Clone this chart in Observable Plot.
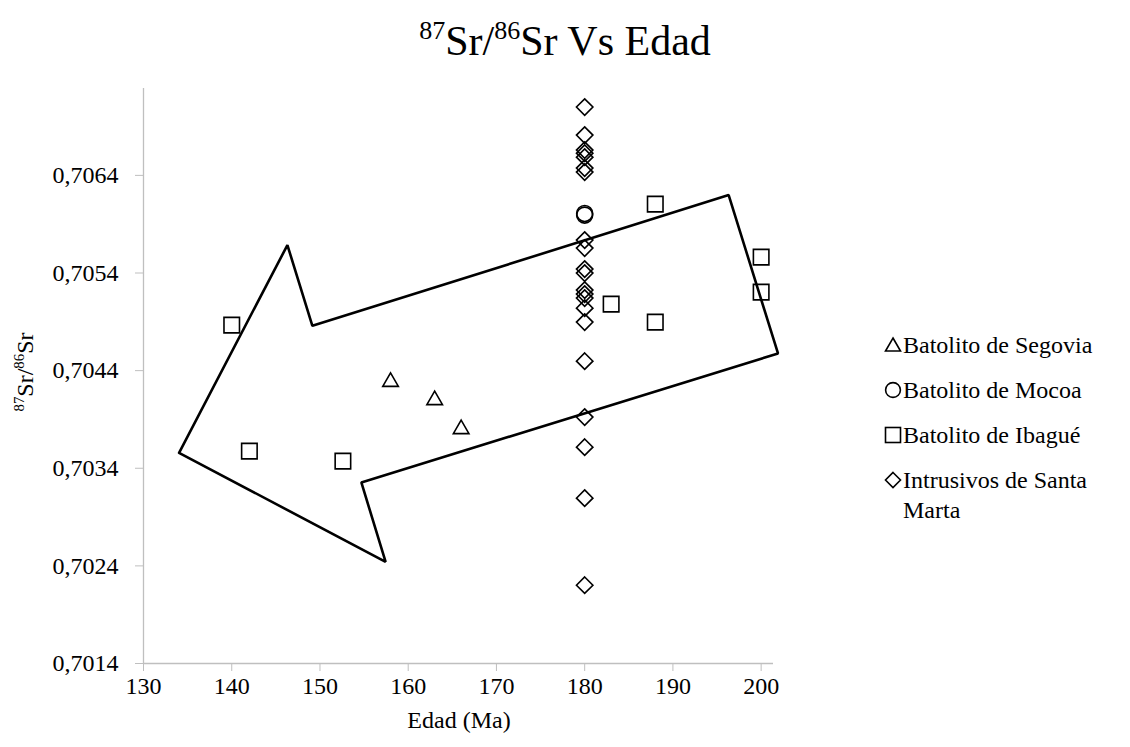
<!DOCTYPE html>
<html>
<head>
<meta charset="utf-8">
<script src="https://cdn.jsdelivr.net/npm/d3@7"></script>
<script src="https://cdn.jsdelivr.net/npm/@observablehq/plot@0.6"></script>
<style>
  html, body { margin: 0; padding: 0; background: #fff; }
  #wrap, #wrap * { font-family: "Liberation Serif", "Times New Roman", "DejaVu Serif", serif !important; }
  #wrap { position: relative; width: 1130px; height: 747px; color: #000; }
  #wrap svg.plot { position: absolute; left: 0; top: 0; }
  #wrap svg text { font-family: "Liberation Serif", "Times New Roman", serif !important; font-variant: normal !important; }
  .abs { position: absolute; white-space: nowrap; }
  sup { font-size: 0.62em; vertical-align: 0; position: relative; top: -0.62em; }
  #title { left: 0; width: 1130px; top: 20px; text-align: center; font-size: 42px; line-height: 42px; }
  #ylab { left: 25px; top: 372px; font-size: 24px; transform: translate(-50%, -50%) rotate(-90deg); }
  #xlab { left: 459px; top: 720px; font-size: 24px; transform: translate(-50%, -50%); }
  #legend { left: 884px; top: 330px; font-size: 24px; line-height: 30px; }
  .row { position: relative; height: 45px; padding-left: 19px; }
  .row svg { position: absolute; left: 0; top: 6px; }
</style>
</head>
<body>
<div id="wrap">
  <div id="title" class="abs"><sup>87</sup>Sr/<sup>86</sup>Sr Vs Edad</div>
  <div id="ylab" class="abs"><sup>87</sup>Sr/<sup>86</sup>Sr</div>
  <div id="xlab" class="abs">Edad (Ma)</div>
  <div id="legend" class="abs"></div>
</div>
<script>
// ---- data ----
const seriesNames = ["Batolito de Segovia", "Batolito de Mocoa", "Batolito de Ibagué", "Intrusivos de Santa Marta"];

const segoviaAge = [158, 163, 166];
const segoviaSr  = [0.704285, 0.704098, 0.703801];

const mocoaAge = [180, 180];
const mocoaSr  = [0.705993, 0.706010];

const ibagueAge = [140, 142, 152.6, 183, 188, 188, 200, 200];
const ibagueSr  = [0.704866, 0.703575, 0.703473, 0.705081, 0.706106, 0.704897, 0.705563, 0.705204];

const santaMartaAge = [180, 180, 180, 180, 180, 180, 180, 180, 180, 180, 180, 180, 180, 180, 180, 180, 180, 180, 180, 180, 180];
const santaMartaSr  = [0.707100, 0.706813, 0.706659, 0.706628, 0.706587, 0.706475, 0.706434,
                       0.705737, 0.705655, 0.705440, 0.705399, 0.705225, 0.705184, 0.705143,
                       0.705040, 0.704897, 0.704497, 0.703924, 0.703616, 0.703094, 0.702202];

// arrow annotation outline (data units: age, ratio)
const arrowAge = [134.03, 146.31, 149.14, 196.32, 201.91, 154.69, 157.44, 134.03];
const arrowSr  = [0.703558, 0.705686, 0.704859, 0.706198, 0.704576, 0.703255, 0.702441, 0.703558];

const xTicks = [130, 140, 150, 160, 170, 180, 190, 200];
const yTicks = [0.7014, 0.7024, 0.7034, 0.7044, 0.7054, 0.7064];

// ---- build ----
const toRows = (ages, vals) => ages.map((a, i) => ({age: a, sr: vals[i]}));
const segovia = toRows(segoviaAge, segoviaSr);
const mocoa = toRows(mocoaAge, mocoaSr);
const ibague = toRows(ibagueAge, ibagueSr);
const santaMarta = toRows(santaMartaAge, santaMartaSr);
const arrow = toRows(arrowAge, arrowSr);

const fmt = d => d.toFixed(4).replace(".", ",");
const axisGray = "#bfbfbf";
const sw = 1.6;
const serif = '"Liberation Serif", "Times New Roman", serif';

const chart = Plot.plot({
  width: 1130,
  height: 747,
  marginLeft: 143,
  marginRight: 357,
  marginTop: 88,
  marginBottom: 84,
  style: {fontFamily: serif, fontSize: "24px", color: "#000", background: "transparent", overflow: "visible"},
  x: {domain: [130, 201.4]},
  y: {domain: [0.7014, 0.70729]},
  marks: [
    Plot.ruleX([130], {stroke: axisGray, strokeWidth: 1.3}),
    Plot.ruleY([0.7014], {stroke: axisGray, strokeWidth: 1.3}),
    Plot.axisX({ticks: xTicks, tickSize: 8, tickPadding: 5, stroke: axisGray, fill: "#000", label: null, fontFamily: serif, tickFormat: d => String(d)}),
    Plot.axisY({ticks: yTicks, tickSize: 8, tickPadding: 17, stroke: axisGray, fill: "#000", label: null, fontFamily: serif, tickFormat: fmt}),
    Plot.dot(santaMarta, {x: "age", y: "sr", symbol: "diamond2", r: 7.4, stroke: "#000", strokeWidth: sw, fill: "none"}),
    Plot.dot(mocoa, {x: "age", y: "sr", symbol: "circle", r: 8, stroke: "#000", strokeWidth: sw, fill: "none"}),
    Plot.dot(ibague, {x: "age", y: "sr", symbol: "square", r: 8.75, stroke: "#000", strokeWidth: sw, fill: "none"}),
    Plot.dot(segovia, {x: "age", y: "sr", symbol: "triangle2", r: 7.45, stroke: "#000", strokeWidth: sw, fill: "none"}),
    Plot.line(arrow, {x: "age", y: "sr", stroke: "#000", strokeWidth: 2.6, strokeLinejoin: "miter", curve: "linear"})
  ]
});
chart.classList.add("plot");
chart.setAttribute("font-family", serif);
document.getElementById("wrap").prepend(chart);

// ---- legend ----
const legendSymbols = [
  '<polygon points="9,2 16.5,15 1.5,15" fill="none" stroke="#000" stroke-width="1.6"/>',
  '<circle cx="9" cy="9" r="7.4" fill="none" stroke="#000" stroke-width="1.6"/>',
  '<rect x="1.5" y="1.5" width="15" height="15" fill="none" stroke="#000" stroke-width="1.6"/>',
  '<polygon points="9,1.5 16.5,9 9,16.5 1.5,9" fill="none" stroke="#000" stroke-width="1.6"/>'
];
const legendLabels = ["Batolito de Segovia", "Batolito de Mocoa", "Batolito de Ibagué", "Intrusivos de Santa<br>Marta"];
const legend = document.getElementById("legend");
legendLabels.forEach((lab, i) => {
  const row = document.createElement("div");
  row.className = "row";
  row.innerHTML = `<svg width="18" height="18" viewBox="0 0 18 18">${legendSymbols[i]}</svg>${lab}`;
  legend.appendChild(row);
});
</script>
</body>
</html>
